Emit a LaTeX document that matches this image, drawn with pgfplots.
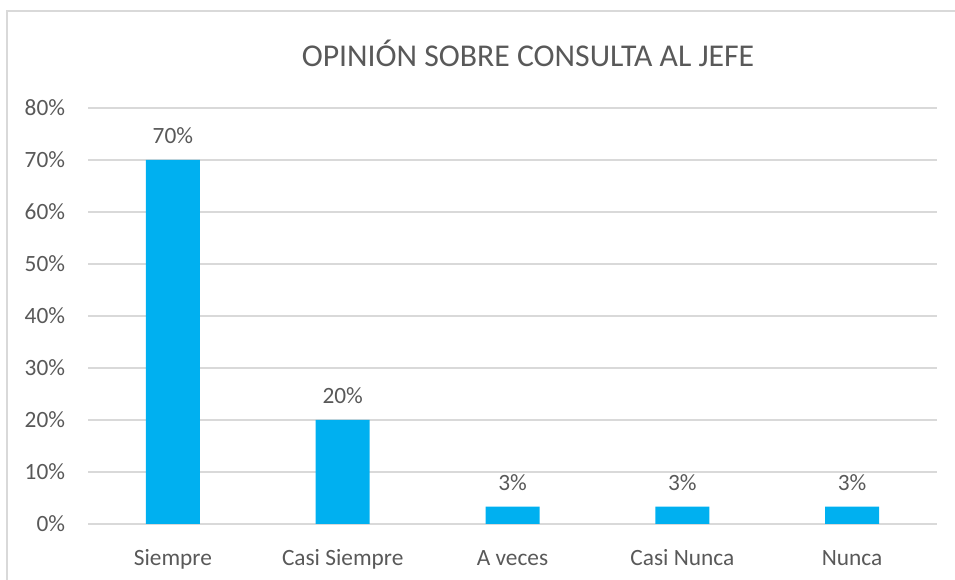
\documentclass[border=0pt]{standalone}
\usepackage{fontspec}
\setmainfont{Carlito}
\usepackage{pgfplots}
\pgfplotsset{compat=1.18}
\definecolor{barblue}{HTML}{00B0F0}
\definecolor{txt}{HTML}{595959}
\definecolor{gridc}{HTML}{D9D9D9}
\begin{document}
\begin{tikzpicture}
\path[use as bounding box] (0,0) rectangle (716.25pt,435pt);
\draw[gridc, line width=1.1pt] (5.25pt,0pt) -- (5.25pt,426.75pt) -- (716.25pt,426.75pt);
\node[anchor=base, text=txt, font=\fontsize{23.8}{28}\selectfont, inner sep=0] at (396pt,384.75pt) {OPINIÓN SOBRE CONSULTA AL JEFE};
\begin{axis}[
  at={(66pt,42pt)}, anchor=south west,
  scale only axis, width=636.75pt, height=312pt,
  ymin=0, ymax=80, xmin=-0.5, xmax=4.5,
  ytick={0,10,...,80},
  yticklabel={\pgfmathprintnumber{\tick}\%},
  /pgf/number format/assume math mode=true,
  ymajorgrids,
  major grid style={gridc, line width=1.1pt},
  axis line style={draw=none},
  tick style={draw=none},
  xtick={0,1,2,3,4},
  xticklabels={Siempre, Casi Siempre, A veces, Casi Nunca, Nunca},
  xticklabel style={anchor=base, yshift=-27pt, inner sep=0, text=txt, font=\fontsize{17.5}{21}\selectfont},
  yticklabel style={anchor=east, xshift=-17pt, inner sep=0, text=txt, font=\fontsize{17.5}{21}\selectfont},
  ybar, bar width=40.5pt,
  nodes near coords={\pgfmathprintnumber[fixed,precision=0]{\pgfplotspointmeta}\%},
  nodes near coords style={anchor=south, inner sep=0, yshift=12pt, text=txt, font=\fontsize{17.5}{21}\selectfont},
]
\addplot[fill=barblue, draw=none] coordinates {(0,70) (1,20) (2,3.33) (3,3.33) (4,3.33)};
\end{axis}
\end{tikzpicture}
\end{document}
